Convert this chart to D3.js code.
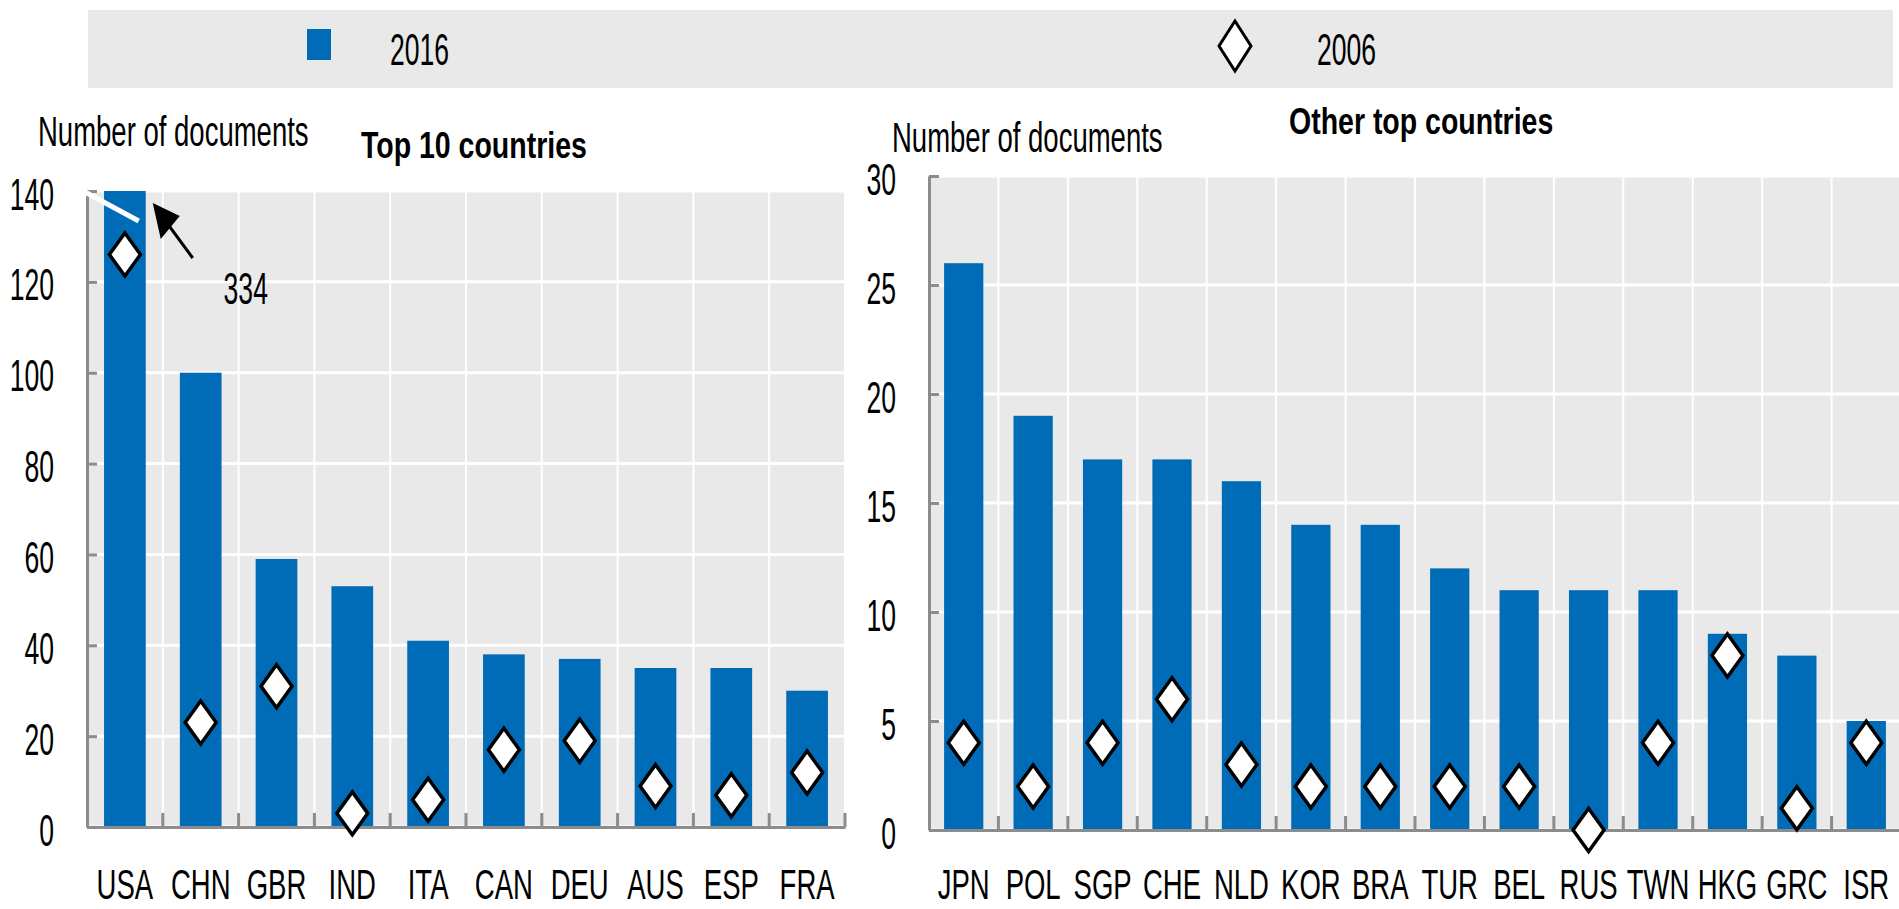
<!DOCTYPE html>
<html>
<head>
<meta charset="utf-8">
<script src="https://cdnjs.cloudflare.com/ajax/libs/d3/7.8.5/d3.min.js"></script>
<style>
  html, body { margin:0; padding:0; background:#fff; overflow:hidden; }
  svg { display:block; font-family:"Liberation Sans", Arial, sans-serif; }
</style>
</head>
<body>
<div id="chart"></div>
<script>
// Data
var top10Countries = ["USA","CHN","GBR","IND","ITA","CAN","DEU","AUS","ESP","FRA"];
var top10Docs2016  = [334,100,59,53,41,38,37,35,35,30];
var top10Docs2006  = [126,23,31,3,6,17,19,9,7,12];
var otherCountries = ["JPN","POL","SGP","CHE","NLD","KOR","BRA","TUR","BEL","RUS","TWN","HKG","GRC","ISR"];
var otherDocs2016  = [26,19,17,17,16,14,14,12,11,11,11,9,8,5];
var otherDocs2006  = [4,2,4,6,3,2,2,2,2,0,4,8,1,4];
var top10Ticks = [0,20,40,60,80,100,120,140];
var otherTicks = [0,5,10,15,20,25,30];
var legendLabels = ["2016","2006"];
var panelTitles = ["Top 10 countries","Other top countries"];
var yAxisLabel = "Number of documents";

var W = 1899, H = 909;
var BLUE = "#006bb6", GREY_BG = "#e9e9e9", AXIS = "#8c8c8c";
// the original font is a very narrow one, squeeze the text horizontally
var SX_NUM = 0.59, SX_TXT = 0.63, SX_BOLD = 0.77;

var svg = d3.select("#chart").append("svg")
    .attr("width", W)
    .attr("height", H);

function addText(parent, x, y, str, size, k, anchor, weight) {
  return parent.append("g")
      .attr("transform", "translate(" + x + "," + y + ")")
    .append("text")
      .attr("transform", "scale(" + k + ",1)")
      .attr("text-anchor", anchor || "start")
      .attr("font-size", size)
      .attr("font-weight", weight || "normal")
      .attr("fill", "#000")
      .text(str);
}
function squeeze(sel, k) {
  sel.each(function() {
    var t = d3.select(this);
    var x = +t.attr("x") || 0;
    t.attr("x", x / k).attr("transform", "scale(" + k + ",1)");
  });
}
function diamond(hw, hh) {
  return "M0," + (-hh) + "L" + hw + ",0L0," + hh + "L" + (-hw) + ",0Z";
}

// Legend
var legend = svg.append("g").attr("class", "legend");
legend.append("rect")
    .attr("x", 88).attr("y", 10)
    .attr("width", 1805).attr("height", 78)
    .attr("fill", GREY_BG);
legend.append("rect")
    .attr("x", 307).attr("y", 29)
    .attr("width", 24).attr("height", 31)
    .attr("fill", BLUE);
addText(legend, 390, 65, legendLabels[0], 45, SX_NUM);
legend.append("path")
    .attr("transform", "translate(1235,46)")
    .attr("d", diamond(16, 25))
    .attr("fill", "#fff")
    .attr("stroke", "#000")
    .attr("stroke-width", 3);
addText(legend, 1317, 65, legendLabels[1], 45, SX_NUM);

// Panels
function drawPanel(p) {
  var x = d3.scaleBand().domain(p.countries).range([p.left, p.right]).padding(0);
  var y = d3.scaleLinear().domain([0, p.max]).range([p.bottom, p.top]);
  var g = svg.append("g");

  g.append("rect")
      .attr("x", p.left).attr("y", p.top)
      .attr("width", p.right - p.left).attr("height", p.bottom - p.top)
      .attr("fill", GREY_BG);

  // gridlines
  g.selectAll(".hgrid")
    .data(p.ticks)
    .enter().append("line")
      .attr("x1", p.left).attr("x2", p.right)
      .attr("y1", function(d){ return y(d); })
      .attr("y2", function(d){ return y(d); })
      .attr("stroke", "#fff")
      .attr("stroke-width", 3);
  var bounds = p.countries.slice(1).map(function(c){ return x(c); }).concat([p.right]);
  g.selectAll(".vgrid")
    .data(bounds)
    .enter().append("line")
      .attr("x1", function(d){ return d; })
      .attr("x2", function(d){ return d; })
      .attr("y1", p.top).attr("y2", p.bottom)
      .attr("stroke", "#fff")
      .attr("stroke-width", 2);

  // bars (2016)
  var bw = x.bandwidth() * p.barRatio;
  g.selectAll(".bar")
    .data(p.countries)
    .enter().append("rect")
      .attr("x", function(d){ return x(d) + (x.bandwidth() - bw) / 2; })
      .attr("y", function(d,i){ return y(Math.min(p.v2016[i], p.max)); })
      .attr("width", bw)
      .attr("height", function(d,i){ return p.bottom - y(Math.min(p.v2016[i], p.max)); })
      .attr("fill", BLUE);

  // axes
  var yAxis = g.append("g")
      .attr("transform", "translate(" + p.left + ",0)")
      .call(d3.axisLeft(y).tickValues(p.ticks).tickSizeInner(-10).tickSizeOuter(0).tickPadding(33));
  yAxis.selectAll("line").attr("stroke", AXIS).attr("stroke-width", 3);
  yAxis.select(".domain").attr("stroke", AXIS).attr("stroke-width", 3);
  yAxis.selectAll("text")
      .attr("font-size", 45)
      .attr("font-family", "Liberation Sans, Arial, sans-serif")
      .attr("fill", "#000")
      .attr("dy", "0.4em");
  squeeze(yAxis.selectAll("text"), SX_NUM);

  var xAxis = g.append("g")
      .attr("transform", "translate(0," + p.bottom + ")")
      .call(d3.axisBottom(x).tickSize(0).tickSizeOuter(0));
  xAxis.select(".domain").attr("stroke", AXIS).attr("stroke-width", 3);
  xAxis.selectAll("text")
      .attr("font-size", 43)
      .attr("font-family", "Liberation Sans, Arial, sans-serif")
      .attr("fill", "#000")
      .attr("y", p.labelY)
      .attr("dy", 0);
  squeeze(xAxis.selectAll("text"), SX_TXT + 0.01);
  g.selectAll(".btick")
    .data(bounds)
    .enter().append("line")
      .attr("x1", function(d){ return d; })
      .attr("x2", function(d){ return d; })
      .attr("y1", p.bottom - 14).attr("y2", p.bottom)
      .attr("stroke", AXIS)
      .attr("stroke-width", 3);

  // broken bar marker + arrow for values beyond the axis
  p.countries.forEach(function(c, i) {
    if (p.v2016[i] <= p.max) return;
    var bx = x(c) + (x.bandwidth() - bw) / 2;
    g.append("line")
        .attr("x1", p.left - 2).attr("y1", y(p.max) + 1)
        .attr("x2", bx + bw - 7).attr("y2", y(p.max) + 30)
        .attr("stroke", "#fff")
        .attr("stroke-width", 5);
    var tipX = bx + bw + 7, tipY = y(p.max) + 12;
    g.append("line")
        .attr("x1", tipX + 40).attr("y1", tipY + 55)
        .attr("x2", tipX + 12).attr("y2", tipY + 17)
        .attr("stroke", "#000")
        .attr("stroke-width", 3);
    g.append("path")
        .attr("d", "M" + tipX + "," + tipY +
                   "L" + (tipX + 27) + "," + (tipY + 13) +
                   "L" + (tipX + 8) + "," + (tipY + 36) + "Z")
        .attr("fill", "#000");
    addText(g, tipX + 93, tipY + 101, p.v2016[i], 45, SX_NUM, "middle");
  });

  // diamonds (2006)
  g.selectAll(".dia")
    .data(p.countries)
    .enter().append("path")
      .attr("transform", function(d,i){
        return "translate(" + (x(d) + x.bandwidth() / 2) + "," + y(p.v2006[i]) + ")";
      })
      .attr("d", diamond(15.5, 21.5))
      .attr("fill", "#fff")
      .attr("stroke", "#000")
      .attr("stroke-width", 3.5);

  addText(g, p.unitX, p.unitY, yAxisLabel, 43, SX_TXT + 0.01);
  addText(g, p.titleX, p.titleY, p.title, 37, SX_BOLD, "start", "bold");
}

drawPanel({
  countries: top10Countries, v2016: top10Docs2016, v2006: top10Docs2006,
  ticks: top10Ticks, max: 140,
  left: 87, right: 845, top: 191, bottom: 827, barRatio: 0.55, labelY: 72,
  unitX: 38, unitY: 146, title: panelTitles[0], titleX: 361, titleY: 158
});
drawPanel({
  countries: otherCountries, v2016: otherDocs2016, v2006: otherDocs2006,
  ticks: otherTicks, max: 30,
  left: 929, right: 1901, top: 176, bottom: 830, barRatio: 0.565, labelY: 69,
  unitX: 892, unitY: 152, title: panelTitles[1], titleX: 1289, titleY: 134
});
</script>
</body>
</html>
